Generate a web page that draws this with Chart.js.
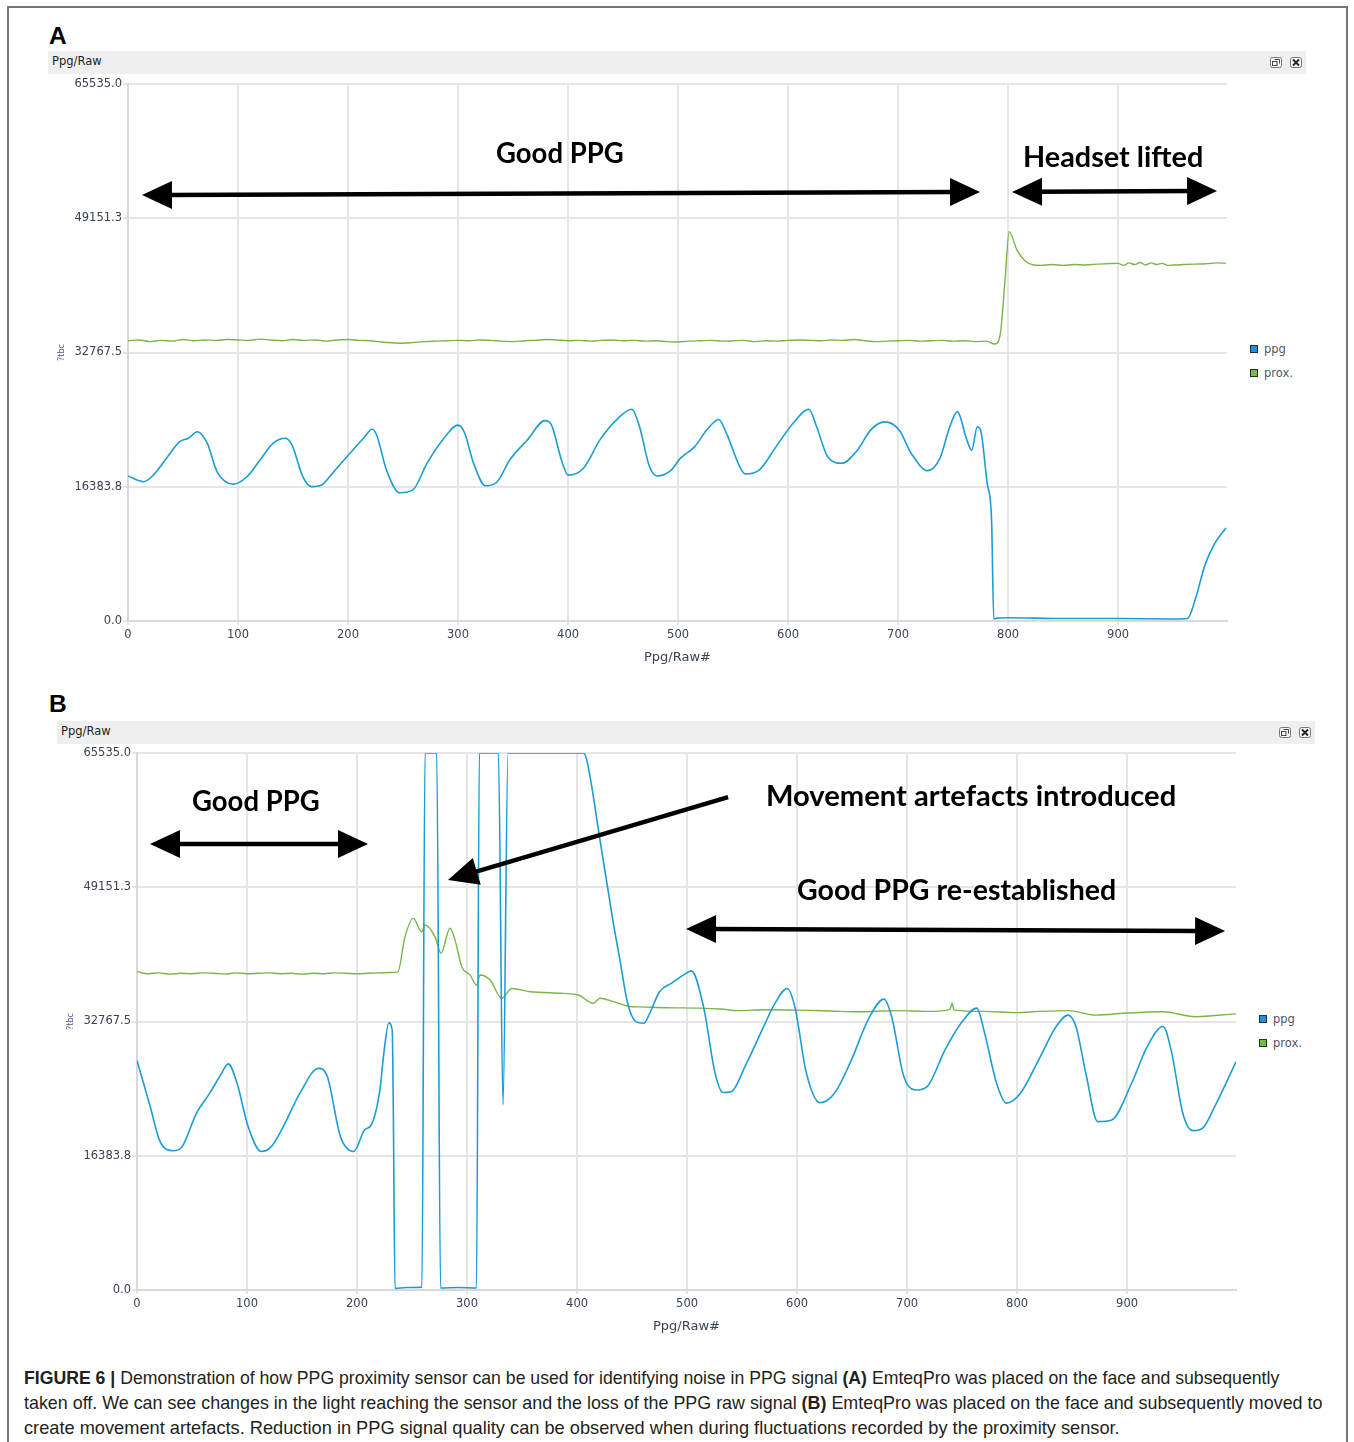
<!DOCTYPE html>
<html><head><meta charset="utf-8">
<script src="https://cdn.jsdelivr.net/npm/chart.js@4.4.1/dist/chart.umd.min.js"></script>
<style>
html,body{margin:0;padding:0;background:#fff;}
body{width:1354px;height:1442px;overflow:hidden;position:relative;font-family:"DejaVu Sans",sans-serif;}
.frame{position:absolute;left:7px;top:6px;width:1341px;height:1460px;border:2px solid #777;box-sizing:border-box;}
.panel{position:absolute;font-family:"Liberation Sans",Arial,sans-serif;font-weight:bold;font-size:24.5px;line-height:1;color:#000;}
.hdr{position:absolute;background:#efefef;height:23px;}
.hdr span{position:absolute;left:4px;top:5px;font-size:11.5px;line-height:1;color:#1e1e1e;}
.hdr svg{position:absolute;top:6px;}
canvas{position:absolute;}
.leg{position:absolute;font-size:11.5px;line-height:1;color:#4e586a;white-space:nowrap;}
.leg i{display:inline-block;width:6px;height:6px;border:1px solid #2a2a2a;margin-right:6px;vertical-align:0px;}
.ann{position:absolute;font-family:Lato,"Open Sans",sans-serif;font-weight:bold;font-size:29px;line-height:1;white-space:nowrap;color:#000;transform-origin:0 0;}
.cap{position:absolute;left:24px;font-family:"Liberation Sans Narrow","Liberation Sans",Arial,sans-serif;font-size:18.5px;line-height:1;color:#231f20;white-space:nowrap;transform-origin:0 0;}
</style>
</head><body>
<div class="frame"></div>

<div class="panel" style="left:49px;top:24px">A</div>
<div class="hdr" style="left:48px;top:51px;width:1258px"><span>Ppg/Raw</span>
<svg style="left:1222px" width="12" height="11"><rect x="0.5" y="0.5" width="11" height="10" rx="2" fill="#f6f6f6" stroke="#777"/><rect x="2.5" y="4.5" width="4.5" height="4" fill="none" stroke="#444"/><path d="M4.5 2.5h5v4" fill="none" stroke="#444"/></svg>
<svg style="left:1242px" width="12" height="11"><rect x="0.5" y="0.5" width="11" height="10" rx="2" fill="#f6f6f6" stroke="#777"/><path d="M3 2.5l6 6M9 2.5l-6 6" stroke="#222" stroke-width="1.8"/></svg>
</div>
<canvas id="cA" width="1180" height="595" style="left:48px;top:76px;width:1180px;height:595px"></canvas>
<div class="leg" style="left:1250px;top:344px"><i style="background:#1f8fde"></i>ppg</div>
<div class="leg" style="left:1250px;top:368px"><i style="background:#72bd43"></i>prox.</div>

<div class="panel" style="left:49px;top:692px">B</div>
<div class="hdr" style="left:57px;top:721px;width:1258px"><span>Ppg/Raw</span>
<svg style="left:1222px" width="12" height="11"><rect x="0.5" y="0.5" width="11" height="10" rx="2" fill="#f6f6f6" stroke="#777"/><rect x="2.5" y="4.5" width="4.5" height="4" fill="none" stroke="#444"/><path d="M4.5 2.5h5v4" fill="none" stroke="#444"/></svg>
<svg style="left:1242px" width="12" height="11"><rect x="0.5" y="0.5" width="11" height="10" rx="2" fill="#f6f6f6" stroke="#777"/><path d="M3 2.5l6 6M9 2.5l-6 6" stroke="#222" stroke-width="1.8"/></svg>
</div>
<canvas id="cB" width="1180" height="595" style="left:57px;top:745px;width:1180px;height:595px"></canvas>
<div class="leg" style="left:1259px;top:1014px"><i style="background:#1f8fde"></i>ppg</div>
<div class="leg" style="left:1259px;top:1038px"><i style="background:#72bd43"></i>prox.</div>

<div class="ann" id="t1">Good PPG</div>
<div class="ann" id="t2">Headset lifted</div>
<div class="ann" id="t3">Good PPG</div>
<div class="ann" id="t4">Movement artefacts introduced</div>
<div class="ann" id="t5">Good PPG re-established</div>

<div class="cap" id="c1"><b>FIGURE 6 |</b> Demonstration of how PPG proximity sensor can be used for identifying noise in PPG signal <b>(A)</b> EmteqPro was placed on the face and subsequently</div>
<div class="cap" id="c2">taken off. We can see changes in the light reaching the sensor and the loss of the PPG raw signal <b>(B)</b> EmteqPro was placed on the face and subsequently moved to</div>
<div class="cap" id="c3">create movement artefacts. Reduction in PPG signal quality can be observed when during fluctuations recorded by the proximity sensor.</div>

<script>
// ---------- axis ticks ----------
const xTicks = [0,100,200,300,400,500,600,700,800,900];
const yTicks = [0,16383.75,32767.5,49151.25,65535];
const X_MIN = 0, X_MAX = 999, Y_MIN = 0, Y_MAX = 65535;
const seriesNames = ['ppg','prox.'];

// ---------- panel A : ppg ----------
const ppgA_x = [0,14,23,36,47,55,63,72,81,96,108,120,132,143,149,159,167,176,186,202,214,222,226,235,247,259,272,286,300,306,314,325,335,347,363,379,385,394,400,414,429,444,458,465,474,481,494,502,515,526,537,544,556,561,574,589,604,619,626,636,649,663,675,688,701,712,727,738,747,754,762,767,772,775,781,785,787,790,800,850,900,950,963,970,979,988,998];
const ppgA_y = [17700,17000,17800,20050,21900,22300,23100,21700,18200,16700,17600,19650,21700,22300,21500,17600,16400,16600,18050,20500,22300,23400,22700,18400,15650,16000,19300,22100,23900,22950,19300,16500,16900,19650,22100,24450,23900,19650,17800,18650,22100,24550,25850,23700,18850,17700,18450,19850,21250,23300,24600,22900,18850,17950,18450,21250,24050,25850,23700,20050,19250,20850,23300,24300,23300,20450,18350,19850,23700,25550,22300,20850,23700,23300,16800,12300,250,350,400,300,300,250,300,2550,6850,9500,11350];

// ---------- panel A : prox ----------
const proxA_x = [0,10,20,30,40,50,60,70,80,90,100,110,120,130,140,150,160,170,180,190,200,210,220,230,240,250,260,270,280,290,300,310,320,330,340,350,360,370,380,390,400,410,420,430,440,450,460,470,480,490,500,510,520,530,540,550,560,570,580,590,600,610,620,630,640,650,660,670,680,690,700,710,720,730,740,750,760,770,780,788,793,797,801,808,815,823,830,840,850,860,870,880,890,900,905,910,915,920,925,930,935,940,945,950,960,970,980,990,998];
const proxA_y = [34200,34300,34100,34250,34150,34350,34200,34300,34250,34350,34300,34250,34400,34300,34200,34350,34250,34300,34150,34300,34350,34250,34200,34050,33950,33900,34000,34100,34150,34200,34250,34200,34300,34250,34150,34100,34200,34250,34350,34300,34200,34250,34150,34250,34300,34200,34250,34150,34200,34100,34050,34150,34200,34250,34150,34200,34250,34100,34200,34150,34250,34300,34250,34200,34300,34250,34350,34200,34100,34150,34200,34250,34150,34200,34250,34150,34200,34100,34150,33800,35100,41200,47500,45300,44000,43450,43400,43500,43400,43500,43450,43550,43600,43650,43400,43700,43500,43750,43450,43700,43500,43650,43400,43450,43500,43550,43600,43700,43650];

// ---------- panel B : ppg ----------
const ppgB_x = [0,12,21,33,41,54,66,76,83,91,101,113,122,133,148,165,173,185,197,207,213,221,224,229,232,233,234.5,245,259,261.8,272.5,275.9,292,308.6,311.2,328.5,332.7,337.3,405.7,408.8,420.9,433,439,446,453.5,460.7,466,475,486,497,504,515,525.5,532.7,540,554,569,580,591,598,608.5,621,634,648,666,679,686,697,707.5,718,734.5,749,763.4,770.5,781.4,790.4,803,821,835.5,846.3,853.5,862.5,873.3,886,904,918.3,932.7,940,950.7,959.7,968.7,979.5,999];
const ppgB_y = [28000,22400,18100,17000,17500,21550,24000,26250,27600,25200,19950,16900,17500,19950,24000,27050,26050,18700,16900,19550,20150,24600,28450,32600,31700,22000,200,300,350,65535,65535,250,300,250,65535,65535,22600,65535,65535,64700,54900,44750,40270,35000,32750,32550,33750,36400,37450,38450,38950,34550,26450,24100,24200,27650,31950,35000,36800,34550,26450,22850,24000,27650,33350,35500,33350,26050,24400,24800,29300,32550,34400,31350,25200,22800,24000,28450,32150,33550,32150,26450,20550,20750,25200,29700,32150,29300,21550,19450,19750,22350,27850];

// ---------- panel B : prox ----------
const proxB_x = [0,10,20,30,40,50,60,70,80,90,100,110,120,130,140,150,160,170,180,190,200,210,220,230,237,243.6,251.2,258.8,261.8,270.9,276.4,284.5,289.1,295.2,302.7,308.8,311.8,320.9,331.5,340.6,357.3,387.5,401.2,414.8,420.9,433,448.2,457.3,480,510.9,530,547.3,570,600.9,630,655.5,690,720,739,740.9,742.7,770,799.1,820,846.4,871.8,900,932.7,961.8,980,999];
const proxB_y = [38850,38600,38700,38550,38650,38600,38700,38650,38550,38700,38600,38650,38700,38600,38650,38550,38650,38600,38700,38650,38600,38650,38700,38750,38800,43100,45350,43700,44550,43100,41100,44150,42700,39450,38450,37200,38450,37850,35600,36800,36400,36200,36000,35000,35600,35200,34600,34550,34450,34400,34300,34100,34200,34150,34050,33950,34100,34000,34250,35000,34150,34000,33850,34000,34100,33550,33800,33950,33350,33500,33700];

// ---------- annotation arrows (data coordinates) ----------
const arrowsA_from = [[12.7,51990],[803.6,52360]];
const arrowsA_to   = [[774.5,52360],[990,52480]];
const arrowsA_both = [true,true];
const arrowsB_from = [[11.8,54430],[537.3,60160],[499.1,44060]];
const arrowsB_to   = [[210,54430],[282.7,50040],[989.1,43810]];
const arrowsB_both = [true,false,true];

function pts(xs, ys){ return xs.map((x,i)=>({x:x, y:ys[i]})); }

function head(ctx, tx, ty, ang){
  const L = 30, W = 14;
  const bx = tx - L*Math.cos(ang), by = ty - L*Math.sin(ang);
  ctx.beginPath();
  ctx.moveTo(tx, ty);
  ctx.lineTo(bx + W*Math.sin(ang), by - W*Math.cos(ang));
  ctx.lineTo(bx - W*Math.sin(ang), by + W*Math.cos(ang));
  ctx.closePath();
  ctx.fill();
}
const arrowPlugin = {
  id:'arrows',
  afterDatasetsDraw(chart, args, opts){
    const ctx = chart.ctx, xs = chart.scales.x, ys = chart.scales.y;
    ctx.save();
    ctx.fillStyle = '#000'; ctx.strokeStyle = '#000'; ctx.lineWidth = 4.5;
    (opts.from||[]).forEach((f,i)=>{
      const t = opts.to[i];
      const x1 = xs.getPixelForValue(f[0]), y1 = ys.getPixelForValue(f[1]);
      const x2 = xs.getPixelForValue(t[0]), y2 = ys.getPixelForValue(t[1]);
      const ang = Math.atan2(y2-y1, x2-x1);
      const sx = opts.both[i] ? x1 + 25*Math.cos(ang) : x1, sy = opts.both[i] ? y1 + 25*Math.sin(ang) : y1;
      ctx.beginPath(); ctx.moveTo(sx, sy); ctx.lineTo(x2 - 25*Math.cos(ang), y2 - 25*Math.sin(ang)); ctx.stroke();
      head(ctx, x2, y2, ang);
      if (opts.both[i]) head(ctx, x1, y1, ang + Math.PI);
    });
    ctx.restore();
  }
};

const tickColor = '#3a4258';
function makeChart(id, ppg, prox, arrows){
  return new Chart(document.getElementById(id), {
    type:'line',
    data:{datasets:[
      {label:seriesNames[0], data:ppg, borderColor:'#1b9dd4', borderWidth:1.6, pointRadius:0, cubicInterpolationMode:'monotone', order:1},
      {label:seriesNames[1], data:prox, borderColor:'#7ab547', borderWidth:1.4, pointRadius:0, cubicInterpolationMode:'monotone', order:2}
    ]},
    options:{
      responsive:false, animation:false, events:[],
      layout:{padding:{top:8,right:1,bottom:0,left:0}},
      plugins:{legend:{display:false}, tooltip:{enabled:false}, arrows:arrows},
      scales:{
        x:{type:'linear', min:X_MIN, max:X_MAX,
          afterBuildTicks:s=>{s.ticks = xTicks.map(v=>({value:v}));},
          afterFit:s=>{s.height = 50;},
          grid:{color:'#e5e5e5', lineWidth:2, tickLength:4, drawTicks:true},
          border:{color:'#d9d9d9', width:2},
          ticks:{padding:3, color:tickColor, autoSkip:false, maxRotation:0, font:{family:'DejaVu Sans', size:11.5}, callback:v=>String(v)},
          title:{display:true, text:'Ppg/Raw#', color:tickColor, font:{family:'DejaVu Sans', size:13}, padding:{top:4,bottom:6}}
        },
        y:{type:'linear', min:Y_MIN, max:Y_MAX,
          afterBuildTicks:s=>{s.ticks = yTicks.map(v=>({value:v}));},
          afterFit:s=>{s.width = 80;},
          grid:{color:'#e5e5e5', lineWidth:2, tickLength:5, drawTicks:true},
          border:{color:'#d9d9d9', width:2},
          ticks:{padding:1, color:tickColor, font:{family:'DejaVu Sans', size:11.5}, callback:v=>Number(v).toFixed(1)},
          title:{display:true, text:'?tbc', color:'#5a4e8a', font:{family:'DejaVu Sans', size:8}, padding:{top:9,bottom:0}}
        }
      }
    },
    plugins:[arrowPlugin]
  });
}

makeChart('cA', pts(ppgA_x, ppgA_y), pts(proxA_x, proxA_y), {from:arrowsA_from, to:arrowsA_to, both:arrowsA_both});
makeChart('cB', pts(ppgB_x, ppgB_y), pts(proxB_x, proxB_y), {from:arrowsB_from, to:arrowsB_to, both:arrowsB_both});

// ---------- text layout ----------
const annLayout = [['t1',560,152,128],['t2',1113,156,180],['t3',256,800,128],['t4',971,795,410],['t5',956,889,319]];
annLayout.forEach(([id,cx,cy,w])=>{
  const el = document.getElementById(id);
  const fs = 29;
  const nat = el.offsetWidth;
  el.style.left = (cx - w/2) + 'px';
  el.style.top = (cy - 0.529*fs) + 'px';
  el.style.transform = 'scaleX(' + (w/nat) + ')';
});
const capLayout = [['c1',1385,1255],['c2',1410,1298],['c3',1434.5,1096]];
capLayout.forEach(([id,base,w])=>{
  const el = document.getElementById(id);
  const fs = 18.5;
  const nat = el.offsetWidth;
  el.style.top = (base - 0.8465*fs) + 'px';
  el.style.transform = 'scaleX(' + (w/nat) + ')';
});
</script>
</body></html>
